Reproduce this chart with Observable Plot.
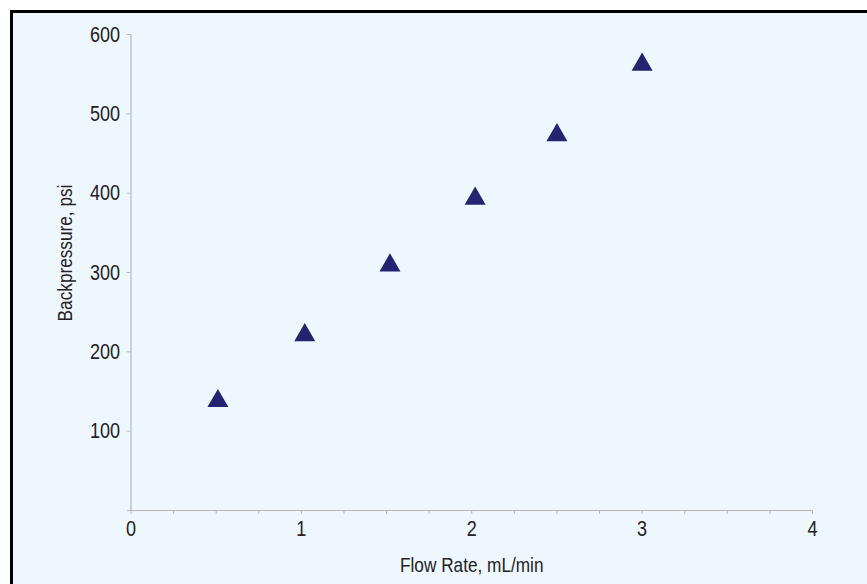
<!DOCTYPE html>
<html>
<head>
<meta charset="utf-8">
<script src="https://cdn.jsdelivr.net/npm/d3@7"></script>
<script src="https://cdn.jsdelivr.net/npm/@observablehq/plot@0.6"></script>
<style>
  html, body { margin: 0; padding: 0; background: #ffffff; }
  #wrap { position: relative; width: 867px; height: 584px; overflow: hidden; }
  #frame { position: absolute; left: 10px; top: 10px; width: 900px; height: 620px;
           border: 3px solid #000; background: #eff7fe; box-sizing: border-box; }
  #chart { position: absolute; left: 0; top: 0; }
  #chart svg { background: transparent; }
</style>
</head>
<body>
<div id="wrap"><div id="frame"></div><div id="chart"></div></div>
<script>
const flowRate = [0.51, 1.02, 1.52, 2.02, 2.5, 3.0];
const backpressure = [138, 221, 309, 393, 473, 562];
const xMajorTicks = [0, 1, 2, 3, 4];
const xMinorTicks = [0.25, 0.5, 0.75, 1.25, 1.5, 1.75, 2.25, 2.5, 2.75, 3.25, 3.5, 3.75];
const yTicks = [100, 200, 300, 400, 500, 600];
const xLabel = "Flow Rate, mL/min";
const yLabel = "Backpressure, psi";

const data = flowRate.map((x, i) => ({x, y: backpressure[i]}));
const font = "'Liberation Sans', Arial, sans-serif";
const squeeze = 0.82;

const chart = Plot.plot({
  width: 867,
  height: 584,
  marginLeft: 130.5,
  marginRight: 55,
  marginTop: 34,
  marginBottom: 74,
  style: {fontFamily: font, fontSize: "21px", color: "#222", background: "transparent"},
  x: {domain: [0, 4]},
  y: {domain: [0, 600]},
  marks: [
    Plot.ruleX([0], {y1: 0, y2: 600, stroke: "#b8b8b8", strokeWidth: 1.2}),
    Plot.ruleY([0], {x1: -0.02, x2: 4, stroke: "#b8b8b8", strokeWidth: 1.2}),
    Plot.axisX({ticks: xMajorTicks, tickFormat: d => String(d), tickSize: 4, tickPadding: 6, stroke: "#b8b8b8", fill: "#222", fontSize: 22, label: null}),
    Plot.axisX({ticks: xMinorTicks, tickSize: 4, tickFormat: () => "", stroke: "#b8b8b8", label: null}),
    Plot.axisY({ticks: yTicks, tickSize: 4, tickPadding: 7, stroke: "#b8b8b8", fill: "#222", fontSize: 22, label: null}),
    Plot.dot(data, {x: "x", y: "y", symbol: "triangle", r: 7.8, fill: "#23236f", stroke: "none"}),
    Plot.text([xLabel], {frameAnchor: "bottom", dy: 61, fill: "#222", fontSize: 21}),
    Plot.text([yLabel], {frameAnchor: "left", textAnchor: "middle", dx: -65.5, dy: -19.5, rotate: -90, fill: "#222", fontSize: 21})
  ]
});

// Narrow the text horizontally (reference uses a condensed face)
chart.querySelectorAll("text").forEach(t => {
  const xa = t.getAttribute("x");
  if (xa !== null && /^-?[\d.]+$/.test(xa.trim())) t.setAttribute("x", +xa / squeeze);
  const tr = t.getAttribute("transform") || "";
  t.setAttribute("transform", `${tr} scale(${squeeze},1)`.trim());
});
document.getElementById("chart").append(chart);
</script>
</body>
</html>
